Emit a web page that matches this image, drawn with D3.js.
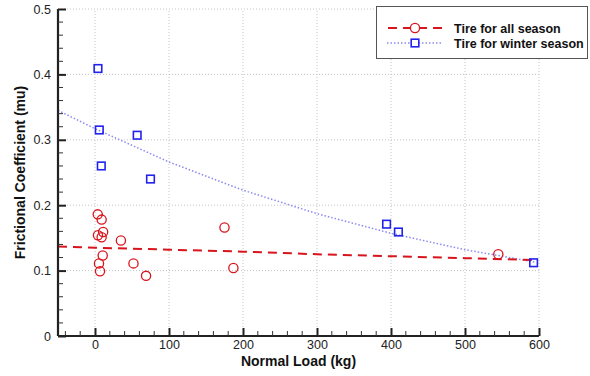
<!DOCTYPE html>
<html><head><meta charset="utf-8">
<script src="https://cdn.jsdelivr.net/npm/d3@7"></script>
<style>body{margin:0;background:#fff;}svg{display:block;font-family:"Liberation Sans",Arial,sans-serif;}</style>
</head><body><svg id="c" width="590" height="376"></svg>
<script>
const allSeasonLoad = [3.7, 9, 11, 4, 9, 35, 10.4, 5.4, 6.8, 52, 69, 175, 187, 545];
const allSeasonMu   = [0.186, 0.178, 0.159, 0.154, 0.151, 0.146, 0.123, 0.111, 0.099, 0.111, 0.092, 0.166, 0.104, 0.125];
const winterLoad = [4, 5.8, 57, 8.5, 75, 394, 410, 592.7];
const winterMu   = [0.409, 0.315, 0.307, 0.26, 0.240, 0.171, 0.159, 0.112];
const fitLoad      = [-50, 0, 100, 200, 300, 400, 500, 595];
const allSeasonFit = [0.137, 0.135, 0.132, 0.129, 0.125, 0.122, 0.119, 0.116];
const winterFit    = [0.345, 0.317, 0.266, 0.223, 0.187, 0.157, 0.132, 0.113];
const xTicks = [0, 100, 200, 300, 400, 500, 600];
const yTicks = [0, 0.1, 0.2, 0.3, 0.4, 0.5];
const seriesNames = ["Tire for all season", "Tire for winter season"];

const svg = d3.select("#c");
const x = d3.scaleLinear().domain([-50, 600]).range([58, 539]);
const y = d3.scaleLinear().domain([0, 0.5]).range([336, 9]);
const red = "#d8141c", blue = "#2222ee", lblue = "#8a8af0";

// grid
const g = svg.append("g");
g.selectAll(".gx").data(xTicks).join("line")
  .attr("x1", d => x(d)).attr("x2", d => x(d)).attr("y1", y(0)).attr("y2", y(0.5))
  .attr("stroke", "#c4c4c4").attr("stroke-width", 1).attr("stroke-dasharray", "1,2");
g.selectAll(".gy").data(yTicks.filter(d => d > 0)).join("line")
  .attr("x1", x(-50)).attr("x2", x(600)).attr("y1", d => y(d)).attr("y2", d => y(d))
  .attr("stroke", "#c4c4c4").attr("stroke-width", 1).attr("stroke-dasharray", "1,2");

// fit lines
const line = d3.line().x(d => x(d[0])).y(d => y(d[1]));
svg.append("path").datum(fitLoad.map((v, i) => [v, winterFit[i]]))
  .attr("d", line).attr("fill", "none").attr("stroke", lblue).attr("stroke-width", 1.5).attr("stroke-dasharray", "1.5,2");
svg.append("path").datum(fitLoad.map((v, i) => [v, allSeasonFit[i]]))
  .attr("d", line).attr("fill", "none").attr("stroke", red).attr("stroke-width", 2).attr("stroke-dasharray", "9,6");

// markers
svg.selectAll(".cir").data(allSeasonLoad.map((v, i) => [v, allSeasonMu[i]])).join("circle")
  .attr("cx", d => x(d[0])).attr("cy", d => y(d[1])).attr("r", 4.6)
  .attr("fill", "none").attr("stroke", red).attr("stroke-width", 1.3);
svg.selectAll(".sq").data(winterLoad.map((v, i) => [v, winterMu[i]])).join("rect")
  .attr("x", d => x(d[0]) - 3.8).attr("y", d => y(d[1]) - 3.8).attr("width", 7.6).attr("height", 7.6)
  .attr("fill", "none").attr("stroke", blue).attr("stroke-width", 1.6);

// axes
const xAxis = d3.axisBottom(x).tickValues(xTicks).tickSize(-8).tickPadding(4).tickFormat(d3.format("d"));
const xa = svg.append("g").attr("transform", `translate(0,${y(0)})`).call(xAxis);
const xMinor = d3.range(-40, 600, 20).filter(v => v % 100 !== 0);
xa.selectAll(".minor").data(xMinor).join("line").attr("class", "minor")
  .attr("x1", d => x(d)).attr("x2", d => x(d)).attr("y1", 0).attr("y2", -5).attr("stroke", "#333").attr("stroke-width", 1);
const yAxis = d3.axisLeft(y).tickValues(yTicks).tickSize(-8).tickPadding(7).tickFormat(d => d === 0 ? "0" : d3.format(".1f")(d));
const ya = svg.append("g").attr("transform", `translate(${x(-50)},0)`).call(yAxis);
const yMinor = d3.range(0.02, 0.5, 0.02).filter(v => Math.abs(v * 10 - Math.round(v * 10)) > 1e-6);
ya.selectAll(".minor").data(yMinor).join("line").attr("class", "minor")
  .attr("x1", 0).attr("x2", 5).attr("y1", d => y(d)).attr("y2", d => y(d)).attr("stroke", "#333").attr("stroke-width", 1);
[xa, ya].forEach(a => {
  a.select(".domain").attr("stroke", "#222").attr("stroke-width", 2.2);
  a.selectAll(".tick line").attr("stroke", "#222").attr("stroke-width", 2);
  a.selectAll(".tick text").attr("font-size", 12.5).attr("fill", "#222").attr("font-family", "Liberation Sans, Arial, sans-serif");
});
ya.select(".domain").attr("d", `M0,${y(0)}V${y(0.5)}`);
xa.select(".domain").attr("d", `M${x(-50)},0H${x(600)}`);

// axis titles
svg.append("text").attr("x", (x(-50) + x(600)) / 2).attr("y", 366).attr("text-anchor", "middle")
  .attr("font-size", 14).attr("font-weight", "bold").attr("fill", "#111").text("Normal Load (kg)");
svg.append("text").attr("transform", `translate(25,${(y(0) + y(0.5)) / 2}) rotate(-90)`).attr("text-anchor", "middle")
  .attr("font-size", 14).attr("font-weight", "bold").attr("fill", "#111").text("Frictional Coefficient (mu)");

// legend
const lg = svg.append("g");
lg.append("rect").attr("x", 376.5).attr("y", 6.5).attr("width", 211).attr("height", 52)
  .attr("fill", "#fff").attr("stroke", "#555").attr("stroke-width", 1);
lg.append("line").attr("x1", 387).attr("x2", 443).attr("y1", 28).attr("y2", 28)
  .attr("stroke", red).attr("stroke-width", 2).attr("stroke-dasharray", "9,6").attr("stroke-dashoffset", -1);
lg.append("circle").attr("cx", 415).attr("cy", 28).attr("r", 4.6).attr("fill", "#fff").attr("stroke", red).attr("stroke-width", 1.3);
lg.append("line").attr("x1", 387).attr("x2", 443).attr("y1", 43).attr("y2", 43)
  .attr("stroke", lblue).attr("stroke-width", 1.5).attr("stroke-dasharray", "1.5,2");
lg.append("rect").attr("x", 411.2).attr("y", 39.2).attr("width", 7.6).attr("height", 7.6).attr("fill", "#fff").attr("stroke", blue).attr("stroke-width", 1.6);
lg.selectAll(".lt").data(seriesNames).join("text").attr("x", 454).attr("y", (d, i) => 32.5 + i * 15)
  .attr("font-size", 12.5).attr("font-weight", "bold").attr("fill", "#111").text(d => d);
</script></body></html>
